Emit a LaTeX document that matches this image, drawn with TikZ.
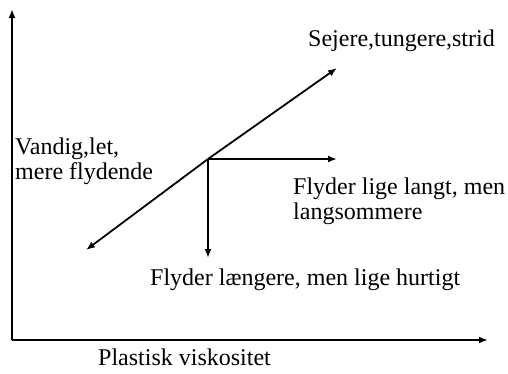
\documentclass[tikz,border=0pt]{standalone}
\usepackage{fontspec}
\setmainfont{Liberation Serif}
\usetikzlibrary{arrows.meta}
\begin{document}
\begin{tikzpicture}[x=1pt,y=-1pt,
  axis/.style={line width=2pt,-{Latex[length=9pt,width=7pt]}},
  arr/.style={line width=1.8pt,-{Latex[length=9pt,width=7pt]}},
  lbl/.style={font=\fontsize{24}{25}\selectfont,inner sep=0pt,align=left}]
\useasboundingbox (0,0) rectangle (508,373);
\coordinate (O) at (12,340);
\coordinate (ytop) at (12,9);
\coordinate (xend) at (488,340);
\coordinate (C) at (208,159);
\coordinate (ur) at (337,68);
\coordinate (ll) at (86,250);
\coordinate (rt) at (337,159);
\coordinate (dn) at (208,258);
\draw[axis] (O) -- (ytop);
\draw[axis] (O) -- (xend);
\draw[arr] (C) -- (ur);
\draw[arr] (C) -- (ll);
\draw[arr] (C) -- (rt);
\draw[arr] (C) -- (dn);
\node[lbl,anchor=base west] (t1) at (308,46) {Sejere,tungere,strid};
\node[lbl,anchor=north west] (t2) at (15,138) {Vandig,let,\\mere flydende};
\node[lbl,anchor=north west] (t3) at (293,178) {Flyder lige langt, men\\langsommere};
\node[lbl,anchor=base west] (t4) at (150,285) {Flyder længere, men lige hurtigt};
\node[lbl,anchor=base west] (t5) at (98,365) {Plastisk viskositet};
\end{tikzpicture}
\end{document}
